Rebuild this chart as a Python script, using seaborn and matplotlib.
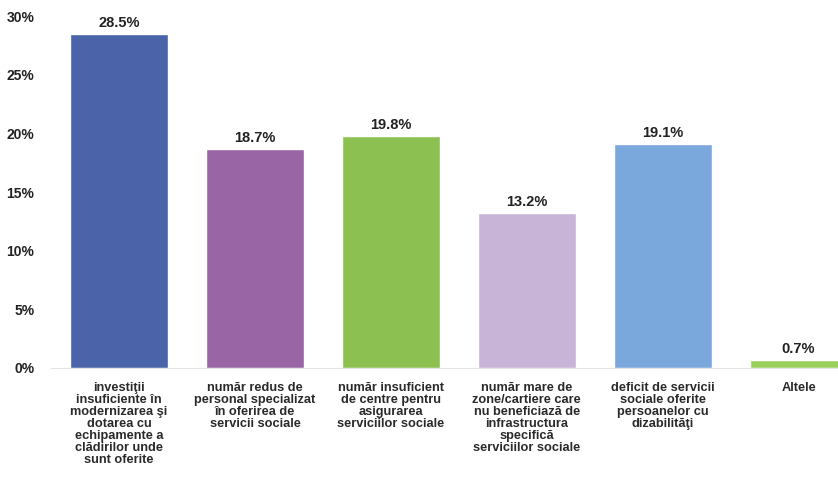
import matplotlib
matplotlib.use("Agg")
import matplotlib.pyplot as plt
import seaborn as sns
import pandas as pd

# Chart data
categories = [
    "investiţii\ninsuficiente în\nmodernizarea şi\ndotarea cu\nechipamente a\nclădirilor unde\nsunt oferite",
    "număr redus de\npersonal specializat\nîn oferirea de\nservicii sociale",
    "număr insuficient\nde centre pentru\nasigurarea\nserviciilor sociale",
    "număr mare de\nzone/cartiere care\nnu beneficiază de\ninfrastructura\nspecifică\nserviciilor sociale",
    "deficit de servicii\nsociale oferite\npersoanelor cu\ndizabilităţi",
    "Altele",
]
values = [28.5, 18.7, 19.8, 13.2, 19.1, 0.7]
bar_colors = ["#4a63a9", "#9a65a5", "#8cc152", "#c7b4d6", "#7aa7dc", "#9bcf5c"]
y_ticks = [0, 5, 10, 15, 20, 25, 30]

sns.set_style("white")
plt.rcParams["font.family"] = ["Liberation Sans", "DejaVu Sans"]

fig = plt.figure(figsize=(8.38, 4.88), dpi=100)
ax = fig.add_axes([0.061, 0.246, 0.939, 0.721])

df = pd.DataFrame({"cat": categories, "val": values})
sns.barplot(data=df, x="cat", y="val", hue="cat", palette=bar_colors,
            legend=False, width=0.72, saturation=1, ax=ax)

for i, v in enumerate(values):
    ax.text(i, v + 0.35, f"{v:.1f}%", ha="center", va="bottom",
            fontsize=10.5, fontweight="bold", color="#222222")

ax.set_ylim(0, 30)
ax.set_xlim(-0.5, 5.29)
ax.set_yticks(y_ticks)
ax.set_yticklabels([f"{t}%" for t in y_ticks], fontsize=10, fontweight="bold", color="#222222")
ax.set_xticks(range(len(categories)))
ax.set_xticklabels(categories, fontsize=9.2, fontweight="bold", color="#2a2a2a", linespacing=1.0)
ax.tick_params(axis="y", length=0, pad=12)
ax.tick_params(axis="x", length=0, pad=10)
ax.set_xlabel("")
ax.set_ylabel("")

sns.despine(ax=ax, left=True, top=True, right=True)
ax.spines["bottom"].set_color("#e3e3e3")

fig.savefig("out.png", dpi=100)
